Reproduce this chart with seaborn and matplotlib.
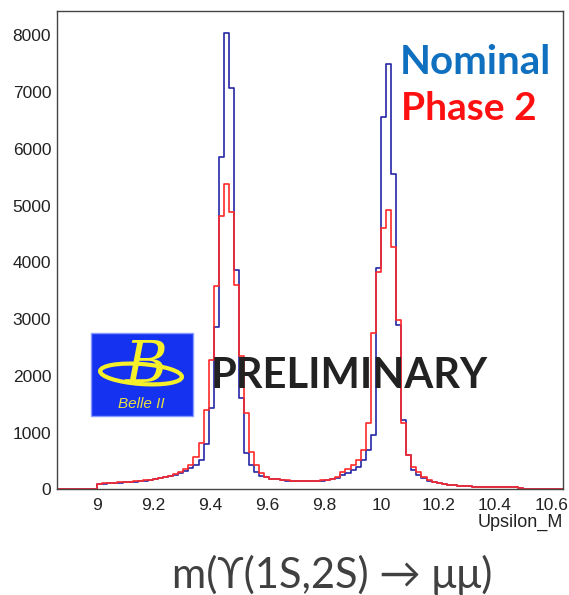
import numpy as np
import pandas as pd
import matplotlib
matplotlib.use("Agg")
import matplotlib.pyplot as plt
import seaborn as sns
from matplotlib.patches import Rectangle, Ellipse
from matplotlib.ticker import MultipleLocator

# ---------------- data ----------------
x_min, x_max, n_bins = 8.86, 10.64, 100
bin_edges = np.linspace(x_min, x_max, n_bins + 1)
bin_centers = 0.5 * (bin_edges[:-1] + bin_edges[1:])

nominal_counts = [
    0, 0, 0, 0, 0, 0, 0, 0,
    95, 100, 105, 110, 115, 120, 130, 135, 145, 155,
    165, 180, 195, 210, 230, 255, 285, 320, 370, 430,
    520, 800, 1427, 2865, 5861, 8035, 7077, 3864, 1603, 634,
    428, 310, 240, 210, 190, 175, 165, 155, 150, 145,
    140, 140, 140, 145, 150, 160, 175, 195, 250, 290,
    340, 400, 510, 692, 950, 3894, 6555, 7494, 5551, 2895,
    1221, 604, 340, 252, 194, 150, 125, 105, 90, 80,
    70, 62, 55, 50, 45, 42, 40, 38, 36, 35,
    34, 33, 32, 30,
    0, 0, 0, 0, 0, 0, 0, 0,
]
phase2_counts = [
    0, 0, 0, 0, 0, 0, 0, 0,
    100, 105, 110, 115, 120, 125, 135, 140, 150, 160,
    170, 185, 200, 220, 240, 270, 300, 350, 428, 570,
    815, 1400, 2285, 3582, 4821, 5374, 4892, 3600, 2355, 1339,
    663, 428, 293, 211, 190, 178, 168, 160, 155, 150,
    148, 148, 150, 155, 162, 172, 190, 215, 300, 350,
    420, 520, 700, 1163, 2749, 3834, 4599, 4921, 4275, 2983,
    1163, 604, 398, 310, 222, 170, 135, 112, 95, 82,
    72, 64, 57, 52, 47, 44, 41, 39, 37, 36,
    35, 34, 33, 31,
    0, 0, 0, 0, 0, 0, 0, 0,
]
series_names = ["Nominal", "Phase 2"]
series_colors = ["#2626a6", "#ff2a2a"]

df_nom = pd.DataFrame({"mass": bin_centers, "count": nominal_counts})
df_ph2 = pd.DataFrame({"mass": bin_centers, "count": phase2_counts})

# ---------------- figure ----------------
W, H = 569, 595
fig = plt.figure(figsize=(W / 100, H / 100), dpi=100)
sns.set_style("white")
plt.rcParams["font.family"] = ["Liberation Sans", "DejaVu Sans"]

ax = fig.add_axes([56.7 / W, 1 - 489.3 / H, (563.3 - 56.7) / W, (489.3 - 11) / H])

for d, c in zip([df_nom, df_ph2], series_colors):
    sns.histplot(data=d, x="mass", weights="count", bins=n_bins,
                 binrange=(x_min, x_max),
                 element="step", fill=False, color=c, linewidth=1.2, ax=ax)

ax.set_xlim(x_min, x_max)
ax.set_ylim(0, 8430)
ax.set_xlabel("")
ax.set_ylabel("")
for s in ax.spines.values():
    s.set_color("#444444")
    s.set_linewidth(1.0)

ax.xaxis.set_major_locator(MultipleLocator(0.2))
ax.xaxis.set_minor_locator(MultipleLocator(0.05))
ax.yaxis.set_major_locator(MultipleLocator(1000))
ax.yaxis.set_minor_locator(MultipleLocator(200))
ax.tick_params(which="both", direction="in", colors="#333333", labelcolor="#222222",
               top=False, right=False, labelsize=12.5)
ax.tick_params(which="major", length=14, width=1.0)
ax.tick_params(which="minor", length=7, width=1.0)
ax.tick_params(axis="x", pad=6)
ax.tick_params(axis="y", pad=4)
ax.set_xticks(np.round(np.arange(9.0, 10.61, 0.2), 1))
ax.set_xticklabels(["9", "9.2", "9.4", "9.6", "9.8", "10", "10.2", "10.4", "10.6"])
ax.set_yticks(np.arange(0, 8001, 1000))
ax.set_yticklabels([str(v) for v in range(0, 8001, 1000)])

# axis title (ROOT style, right aligned)
fig.text(563 / W, 1 - 522 / H, "Upsilon_M", ha="right", va="center",
         fontsize=13, color="#222222")

# legend-like labels
fig.text(400 / W, 1 - 62 / H, series_names[0], ha="left", va="center",
         fontsize=29, fontweight="bold", color="#1070c0",
         family=["Lato", "DejaVu Sans"])
fig.text(401 / W, 1 - 108 / H, series_names[1], ha="left", va="center",
         fontsize=28, fontweight="bold", color="#ff1010",
         family=["Lato", "DejaVu Sans"])

# PRELIMINARY
fig.text(211 / W, 1 - 376 / H, "PRELIMINARY", ha="left", va="center",
         fontsize=30, fontweight="bold", color="#222222",
         family=["Lato", "DejaVu Sans"])

# Belle II logo
logo = Rectangle((90.5 / W, 1 - 415.5 / H), (192.5 - 90.5) / W, (415.5 - 332.5) / H,
                 transform=fig.transFigure, facecolor="#1432f0",
                 edgecolor="#8899ff", linewidth=1.0, zorder=5)
fig.patches.append(logo)
ell = Ellipse((141 / W, 1 - 374 / H), 82 / W, 20 / H, angle=-4,
              transform=fig.transFigure, facecolor="none", edgecolor="#f5f02a",
              linewidth=3.0, zorder=6)
fig.patches.append(ell)
fig.text(146 / W, 1 - 366 / H, "B", ha="center", va="center", fontsize=42,
         style="italic", color="#f5f02a", family=["DejaVu Serif"], zorder=7)
fig.text(141 / W, 1 - 404 / H, "Belle II", ha="center", va="center", fontsize=11,
         style="italic", color="#e8e040", zorder=7)

# bottom formula
fig.text(332 / W, 1 - 575 / H, "m(\u03d2(1S,2S) \u2192 \u03bc\u03bc)", ha="center",
         va="center", fontsize=30, color="#404040",
         family=["Lato", "Noto Sans", "DejaVu Sans"])

fig.savefig("out.png", dpi=100)
